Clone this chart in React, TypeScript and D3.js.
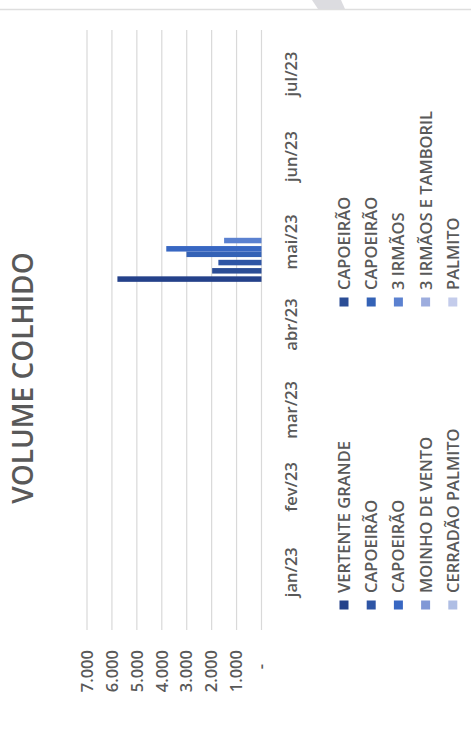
import React from 'react'
import * as d3 from 'd3'

// chart is drawn in its own landscape frame, then turned -90deg to fit the portrait page
const W = 471
const H = 740

const seriesNames = [
  'VERTENTE GRANDE',
  'CAPOEIRÃO',
  'CAPOEIRÃO',
  'CAPOEIRÃO',
  'CAPOEIRÃO',
  '3 IRMÃOS',
  'MOINHO DE VENTO',
  '3 IRMÃOS E TAMBORIL',
  'CERRADÃO PALMITO',
  'PALMITO'
]
const seriesColors = [
  '#24418a',
  '#2b4d96',
  '#2e55a5',
  '#3462b6',
  '#3867c2',
  '#5b81d0',
  '#8198d6',
  '#9dadde',
  '#afbee4',
  '#c4cceb'
]
const harvestDates = [
  '2023-04-17T12:00',
  '2023-04-20T12:00',
  '2023-04-23T12:00',
  '2023-04-26T12:00',
  '2023-04-28T12:00',
  '2023-05-01T12:00',
  null,
  null,
  null,
  null
]
const harvestVolumes = [5780, 1980, 1730, 3010, 3820, 1500, 0, 0, 0, 0]

const valueTicks = [0, 1000, 2000, 3000, 4000, 5000, 6000, 7000]
const monthLabels = ['jan', 'fev', 'mar', 'abr', 'mai', 'jun', 'jul', 'ago', 'set', 'out', 'nov', 'dez']

const ptBR = d3.formatLocale({ decimal: ',', thousands: '.', grouping: [3], currency: ['R$', ''] })
const fmt = ptBR.format(',.0f')

const textColor = '#595959'
const gridColor = '#d9d9d9'
const font = '"Open Sans", "Noto Sans", sans-serif'

export default function App() {
  const x = d3
    .scaleTime()
    .domain([new Date(2022, 11, 11), new Date(2023, 6, 17)])
    .range([110, 710])
  const y = d3.scaleLinear().domain([0, 7000]).range([261.5, 87])

  const monthTicks = d3.timeMonth.range(new Date(2023, 0, 1), new Date(2023, 6, 2))
  const barW = x(new Date(2023, 0, 3)) - x(new Date(2023, 0, 1))

  const bars = seriesNames
    .map((name, i) => ({ name, color: seriesColors[i], date: harvestDates[i], v: harvestVolumes[i] }))
    .filter(d => d.date && d.v > 0)

  return (
    <svg width={W} height={H} style={{ position: 'absolute', left: 0, top: 0, background: '#fff' }}>
      {/* bits of the photographed page */}
      <line x1={0} x2={W} y1={9.5} y2={9.5} stroke="#dedede" strokeWidth={1.5} />
      <polygon points="312,0 341,0 345,9 318,9" fill="#dcdce0" />

      <g transform={`translate(0,${H}) rotate(-90)`}>
        <text
          x={362}
          y={33}
          textAnchor="middle"
          fontFamily={font}
          fontSize={28}
          fontWeight={600}
          fill={textColor}
        >
          VOLUME COLHIDO
        </text>

        {/* gridlines + value labels */}
        {valueTicks.map(t => (
          <g key={t}>
            <line x1={110} x2={710} y1={y(t)} y2={y(t)} stroke={gridColor} strokeWidth={1.2} />
            <text
              x={t === 0 ? 76 : 90}
              y={y(t)}
              dy="0.35em"
              textAnchor="end"
              fontFamily={font}
              fontSize={16.5}
              fontWeight={600}
              fill={textColor}
            >
              {t === 0 ? '-' : fmt(t)}
            </text>
          </g>
        ))}

        {/* bars */}
        {bars.map((d, i) => {
          const c = x(new Date(d.date as string))
          return (
            <rect
              key={i}
              x={c - barW / 2}
              y={y(d.v)}
              width={barW}
              height={y(0) - y(d.v)}
              fill={d.color}
            />
          )
        })}

        {/* month labels */}
        {monthTicks.map(m => (
          <text
            key={+m}
            x={x(m)}
            y={297}
            textAnchor="middle"
            fontFamily={font}
            fontSize={16.5}
            fontWeight={600}
            fill={textColor}
          >
            {monthLabels[m.getMonth()] + '/' + d3.timeFormat('%y')(m)}
          </text>
        ))}

        {/* legend, 2 columns x 5 rows */}
        {seriesNames.map((name, i) => {
          const col = i % 2
          const row = Math.floor(i / 2)
          const mx = col === 0 ? 135 : 438
          const my = 344 + row * 27.2
          return (
            <g key={i}>
              <rect x={mx - 4.5} y={my - 4.5} width={9} height={9} fill={seriesColors[i]} />
              <text
                x={mx + 12}
                y={my}
                dy="0.36em"
                fontFamily={font}
                fontSize={16.5}
                fontWeight={600}
                fill={textColor}
              >
                {name}
              </text>
            </g>
          )
        })}
      </g>
    </svg>
  )
}
